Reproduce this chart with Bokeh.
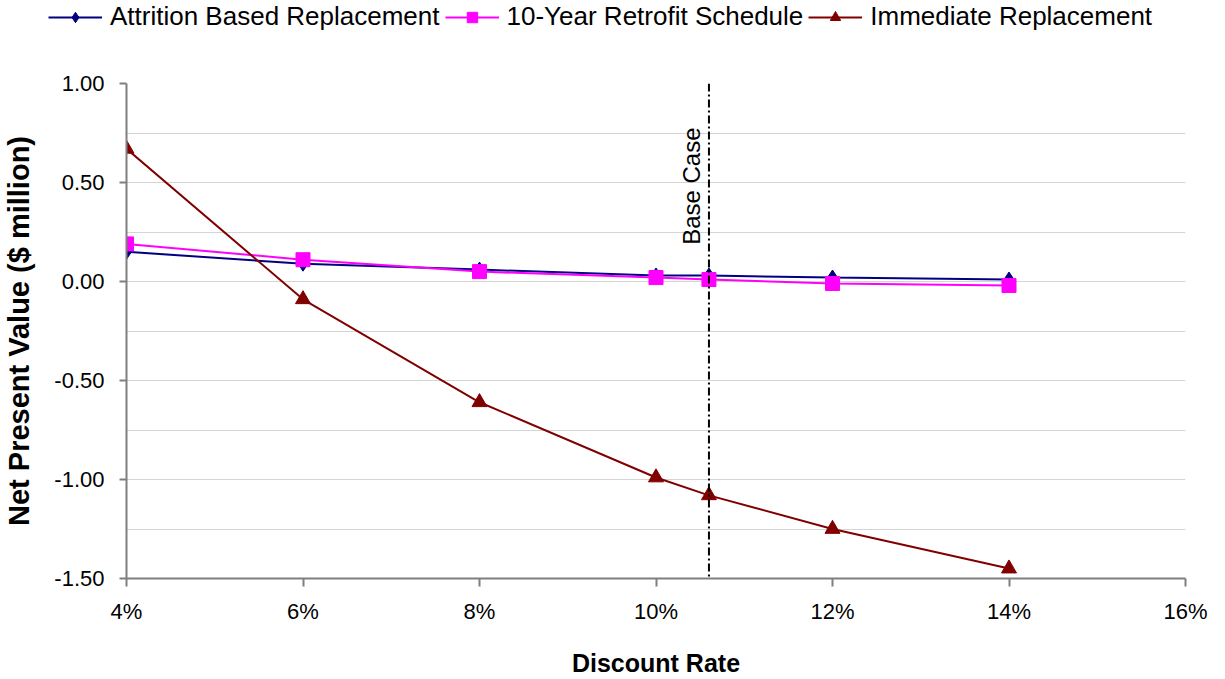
import numpy as np
from bokeh.plotting import figure
from bokeh.models import (Legend, LegendItem, Span, FixedTicker, PrintfTickFormatter,
                          NumeralTickFormatter, ColumnDataSource, Label)
from bokeh.embed import file_html
from bokeh.resources import INLINE

# ---- data ----
rates = [4, 6, 8, 10, 10.6, 12, 14]
attrition = [0.15, 0.09, 0.06, 0.03, 0.03, 0.02, 0.01]
retrofit = [0.19, 0.11, 0.05, 0.02, 0.01, -0.01, -0.02]
immediate = [0.67, -0.09, -0.61, -0.99, -1.08, -1.25, -1.45]
base_case_rate = 10.6
series_names = ["Attrition Based Replacement", "10-Year Retrofit Schedule", "Immediate Replacement"]
series_colors = ["#000080", "#ff00ff", "#800000"]
series_markers = ["diamond", "square", "triangle"]
marker_sizes = [15, 14, 15]
y_ticks = [-1.5, -1.0, -0.5, 0.0, 0.5, 1.0]
y_minor = [-1.25, -0.75, -0.25, 0.25, 0.75]
x_ticks = [4, 6, 8, 10, 12, 14, 16]

FONT = "Liberation Sans"
LEG_H = 40

src = ColumnDataSource(dict(x=rates, a=attrition, r=retrofit, i=immediate))
cols = ["a", "r", "i"]

# ---------- legend strip (series drawn off-range, only the legend shows) ----------
lg = figure(width=1225, height=LEG_H, output_backend="svg", toolbar_location=None,
            x_range=(100, 101), y_range=(100, 101), min_border=0,
            x_axis_type=None, y_axis_type=None)
lg.grid.grid_line_color = None
lg.outline_line_color = None

items = []
for name, cn, col, mk, sz in zip(series_names, cols, series_colors, series_markers, marker_sizes):
    r_line = lg.line("x", cn, source=src, line_color=col, line_width=2)
    r_mk = lg.scatter("x", cn, source=src, marker=mk, size=sz - 1, fill_color=col, line_color=col)
    items.append(LegendItem(label=name, renderers=[r_line, r_mk], index=0))

legend = Legend(items=items, orientation="horizontal", location=(48, 8), padding=0, margin=0,
                border_line_color=None, background_fill_alpha=0,
                label_text_font=FONT, label_text_font_size="26px", label_text_color="black",
                glyph_width=54, glyph_height=26, label_standoff=8, spacing=5,
                label_height=26)
lg.add_layout(legend)

# ---------- main chart ----------
p = figure(width=1225, height=679 - LEG_H, output_backend="svg", toolbar_location=None,
           x_range=(4, 16), y_range=(-1.5, 1.0),
           min_border_left=125, min_border_right=40, min_border_top=83 - LEG_H, min_border_bottom=99)
p.outline_line_color = None
p.background_fill_color = "white"

p.xgrid.grid_line_color = None
p.ygrid.ticker = FixedTicker(ticks=y_ticks, minor_ticks=y_minor)
p.ygrid.grid_line_color = "#d4d4d4"
p.ygrid.grid_line_width = 1
p.ygrid.minor_grid_line_color = "#d4d4d4"
p.ygrid.minor_grid_line_width = 1

for ax in (p.xaxis[0], p.yaxis[0]):
    ax.axis_line_color = "#7f7f7f"
    ax.axis_line_width = 2
    ax.major_tick_line_color = "#7f7f7f"
    ax.major_tick_line_width = 2
    ax.minor_tick_line_color = None
    ax.major_tick_in = 0
    ax.major_label_text_font = FONT
    ax.major_label_text_color = "black"
    ax.axis_label_text_font = FONT
    ax.axis_label_text_font_style = "bold"
    ax.axis_label_text_color = "black"

p.yaxis.ticker = FixedTicker(ticks=y_ticks)
p.yaxis.formatter = NumeralTickFormatter(format="0.00")
p.yaxis.major_tick_out = 7
p.yaxis.major_label_standoff = 15
p.yaxis.major_label_text_font_size = "22px"
p.yaxis.axis_label = "Net Present Value ($ million)"
p.yaxis.axis_label_text_font_size = "29px"
p.yaxis.axis_label_standoff = 16

p.xaxis.ticker = FixedTicker(ticks=x_ticks)
p.xaxis.formatter = PrintfTickFormatter(format="%d%%")
p.xaxis.major_tick_out = 8
p.xaxis.major_label_standoff = 12
p.xaxis.major_label_text_font_size = "22px"
p.xaxis.axis_label = "Discount Rate"
p.xaxis.axis_label_text_font_size = "25px"
p.xaxis.axis_label_standoff = 22

p.add_layout(Span(location=base_case_rate, dimension="height", line_color="black",
                  line_width=2, line_dash="8 3 2 3"))
p.add_layout(Label(x=base_case_rate, y=0.185, text="Base Case", angle=np.pi / 2,
                   x_offset=-4, text_baseline="bottom", text_align="left",
                   text_font=FONT, text_font_size="24px", text_color="black"))

for cn, col, mk, sz in zip(cols, series_colors, series_markers, marker_sizes):
    p.line("x", cn, source=src, line_color=col, line_width=2)
    p.scatter("x", cn, source=src, marker=mk, size=sz, fill_color=col, line_color=col)

# two independent roots stacked in the page (no frame alignment between them)
open("out.html", "w").write(file_html([lg, p], INLINE))
